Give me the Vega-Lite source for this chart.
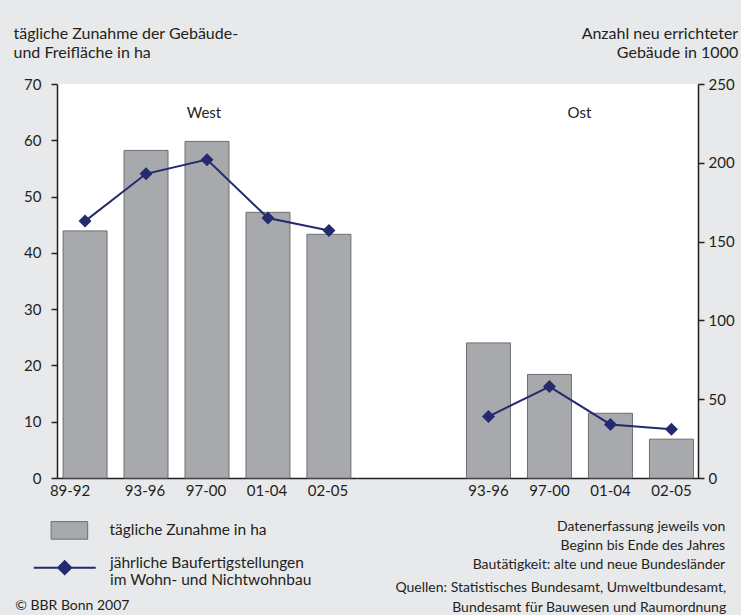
{
  "$schema": "https://vega.github.io/schema/vega-lite/v6.json",
  "background": "#e8e9eb",
  "padding": {"left": 13, "top": 25, "right": 3, "bottom": 2},
  "bounds": "flush",
  "spacing": 0,
  "datasets": {
    "main": [
      {"region": "West", "period": "89-92", "area": 43.9, "buildings": 163},
      {"region": "West", "period": "93-96", "area": 58.2, "buildings": 193},
      {"region": "West", "period": "97-00", "area": 59.8, "buildings": 202},
      {"region": "West", "period": "01-04", "area": 47.2, "buildings": 165},
      {"region": "West", "period": "02-05", "area": 43.3, "buildings": 157},
      {"region": "Ost", "period": "93-96", "area": 24.0, "buildings": 39},
      {"region": "Ost", "period": "97-00", "area": 18.4, "buildings": 58},
      {"region": "Ost", "period": "01-04", "area": 11.5, "buildings": 34},
      {"region": "Ost", "period": "02-05", "area": 6.9, "buildings": 31}
    ]
  },
  "hconcat": [
    {
      "width": 300,
      "height": 394,
      "layer": [
        {
          "layer": [
            {
              "data": {"name": "main"},
              "transform": [{"filter": "datum.region === 'West'"}],
              "mark": {"type": "bar", "stroke": "#6d6e71", "strokeWidth": 1},
              "encoding": {
                "x": {
                  "field": "period", "type": "ordinal",
                  "scale": {"domain": ["89-92", "93-96", "97-00", "01-04", "02-05"], "paddingInner": 0.279, "paddingOuter": 0.1},
                  "axis": {
                    "title": "© BBR Bonn 2007", "titleX": -42.3, "titleY": 131, "titleAlign": "left", "titleBaseline": "alphabetic",
                    "titleFontSize": 14, "titleFontWeight": "normal", "titleColor": "#231f20",
                    "ticks": false, "labelPadding": 5, "labelFontSize": 15, "labelAngle": 0, "domainWidth": 1.5,
                    "labelOffset": {"condition": {"test": "datum.value === '89-92'", "value": -15}, "value": -1}
                  }
                },
                "y": {
                  "field": "area", "type": "quantitative",
                  "scale": {"domain": [0, 70], "nice": false},
                  "axis": {
                    "orient": "left", "values": [0, 10, 20, 30, 40, 50, 60, 70], "tickSize": 6, "labelPadding": 10, "labelFontSize": 15, "domainWidth": 1.5,
                    "title": ["tägliche Zunahme der Gebäude-", "und Freifläche in ha"],
                    "titleX": -44, "titleY": -45.3, "titleAlign": "left", "titleAngle": 0, "titleBaseline": "alphabetic",
                    "titleFontSize": 16, "titleLineHeight": 18.5, "titleFontWeight": "normal", "titleColor": "#231f20"
                  }
                },
                "fill": {
                  "datum": "tägliche Zunahme in ha", "type": "nominal",
                  "scale": {"range": ["#a7a9ac"]},
                  "legend": {
                    "orient": "none", "legendX": -6.6, "legendY": 427.4, "padding": 0, "title": null,
                    "symbolType": "M-1,-0.48H1V0.48H-1Z", "symbolSize": 1340, "symbolStrokeColor": "#6d6e71", "symbolStrokeWidth": 1,
                    "labelOffset": 21, "labelFontSize": 15.5, "labelLimit": 400, "labelColor": "#231f20"
                  }
                }
              }
            },
            {
              "data": {"values": [{"label": "West", "period": "97-00"}]},
              "mark": {"type": "text", "fontSize": 15, "fontWeight": "normal", "dx": -3, "color": "#231f20"},
              "encoding": {
                "x": {"field": "period", "type": "ordinal"},
                "y": {"datum": 64.8, "type": "quantitative"},
                "text": {"field": "label"}
              }
            }
          ]
        },
        {
          "data": {"name": "main"},
          "transform": [{"filter": "datum.region === 'West'"}],
          "layer": [
            {
              "mark": {"type": "line", "strokeWidth": 2},
              "encoding": {
                "x": {"field": "period", "type": "ordinal"},
                "y": {"field": "buildings", "type": "quantitative", "scale": {"domain": [0, 250], "nice": false}, "axis": null},
                "stroke": {
                  "datum": "jährliche Baufertigstellungen im Wohn- und Nichtwohnbau", "type": "nominal",
                  "scale": {"range": ["#232a6e"]},
                  "legend": {
                    "orient": "none", "legendX": -24.3, "legendY": 451.7, "padding": 0, "title": null,
                    "symbolType": "M-1,0H1M0,-0.21L0.21,0L0,0.21L-0.21,0Z", "symbolSize": 3844, "symbolStrokeWidth": 2, "symbolFillColor": "#232a6e",
                    "labelOffset": 13.3, "labelFontSize": 15.5, "labelLimit": 400, "labelColor": "#231f20", "labelBaseline": "alphabetic",
                    "labelExpr": "['jährliche Baufertigstellungen', 'im Wohn- und Nichtwohnbau']"
                  }
                }
              }
            },
            {
              "mark": {"type": "point", "shape": "diamond", "filled": true, "size": 169, "color": "#232a6e", "opacity": 1},
              "encoding": {
                "x": {"field": "period", "type": "ordinal"},
                "y": {"field": "buildings", "type": "quantitative"}
              }
            }
          ]
        }
      ],
      "resolve": {"scale": {"y": "independent"}}
    },
    {
      "width": 341,
      "height": 394,
      "layer": [
        {
          "layer": [
            {
              "data": {"name": "main"},
              "transform": [{"filter": "datum.region === 'Ost'"}],
              "mark": {"type": "bar", "stroke": "#6d6e71", "strokeWidth": 1, "fill": "#a7a9ac"},
              "encoding": {
                "x": {
                  "field": "period", "type": "ordinal",
                  "scale": {"domain": ["93-96", "97-00", "01-04", "02-05"], "paddingInner": 0.279, "paddingOuter": 0.9346, "align": 0.96},
                  "axis": {
                    "title": ["Datenerfassung jeweils von", "Beginn bis Ende des Jahres", "Bautätigkeit: alte und neue Bundesländer"],
                    "titleX": 367.7, "titleY": 52.7, "titleAlign": "right", "titleBaseline": "alphabetic",
                    "titleFontSize": 14, "titleLineHeight": 19, "titleFontWeight": "normal", "titleColor": "#231f20",
                    "ticks": false, "labelPadding": 5, "labelFontSize": 15, "labelAngle": 0, "domainWidth": 1.5
                  }
                },
                "y": {
                  "field": "area", "type": "quantitative",
                  "scale": {"domain": [0, 70], "nice": false},
                  "axis": {
                    "orient": "left", "labels": false, "ticks": false, "domain": false,
                    "title": ["Quellen: Statistisches Bundesamt, Umweltbundesamt,", "Bundesamt für Bauwesen und Raumordnung"],
                    "titleX": 368.7, "titleY": 507.7, "titleAlign": "right", "titleAngle": 0, "titleBaseline": "alphabetic",
                    "titleFontSize": 14, "titleLineHeight": 19.5, "titleFontWeight": "normal", "titleColor": "#231f20"
                  }
                }
              }
            },
            {
              "data": {"values": [{"label": "Ost", "period": "97-00"}]},
              "mark": {"type": "text", "fontSize": 15, "fontWeight": "normal", "dx": 30, "color": "#231f20"},
              "encoding": {
                "x": {"field": "period", "type": "ordinal"},
                "y": {"datum": 64.8, "type": "quantitative"},
                "text": {"field": "label"}
              }
            }
          ]
        },
        {
          "data": {"name": "main"},
          "transform": [{"filter": "datum.region === 'Ost'"}],
          "layer": [
            {
              "mark": {"type": "line", "strokeWidth": 2, "color": "#232a6e"},
              "encoding": {
                "x": {"field": "period", "type": "ordinal"},
                "y": {
                  "field": "buildings", "type": "quantitative",
                  "scale": {"domain": [0, 250], "nice": false},
                  "axis": {
                    "orient": "right", "values": [0, 50, 100, 150, 200, 250], "tickSize": 6, "labelPadding": 4, "labelFontSize": 15, "domainWidth": 1.5,
                    "title": ["Anzahl neu errichteter", "Gebäude in 1000"],
                    "titleX": 39.7, "titleY": -45.3, "titleAlign": "right", "titleAngle": 0, "titleBaseline": "alphabetic",
                    "titleFontSize": 16, "titleLineHeight": 18.5, "titleFontWeight": "normal", "titleColor": "#231f20"
                  }
                }
              }
            },
            {
              "mark": {"type": "point", "shape": "diamond", "filled": true, "size": 169, "color": "#232a6e", "opacity": 1},
              "encoding": {
                "x": {"field": "period", "type": "ordinal"},
                "y": {"field": "buildings", "type": "quantitative"}
              }
            }
          ]
        }
      ],
      "resolve": {"scale": {"y": "independent"}}
    }
  ],
  "config": {
    "font": "Lato",
    "view": {"fill": "#ffffff", "stroke": null},
    "axis": {"grid": false, "labelColor": "#231f20", "domainColor": "#231f20", "tickColor": "#231f20", "tickWidth": 1.5}
  }
}
